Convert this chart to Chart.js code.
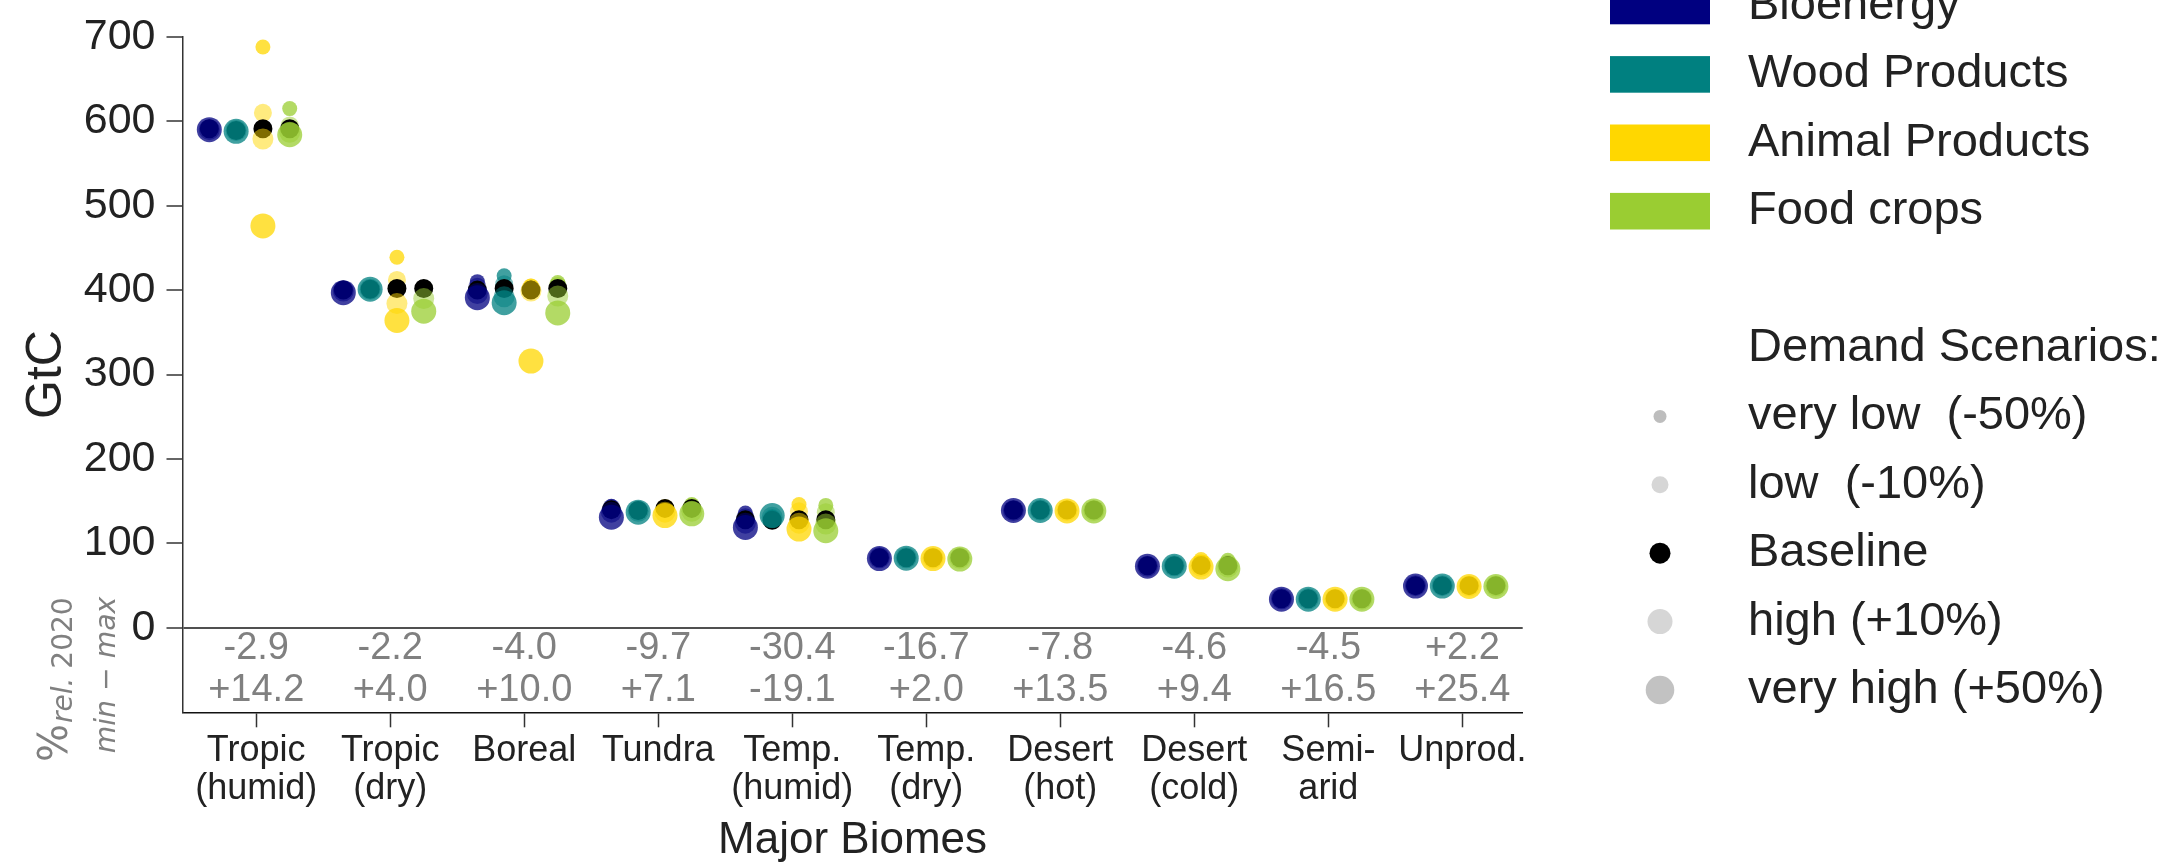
<!DOCTYPE html>
<html lang="en">
<head>
<meta charset="UTF-8">
<title>Carbon stocks by biome</title>
<script src="https://cdn.jsdelivr.net/npm/chart.js@4.4.0/dist/chart.umd.min.js"></script>
<style>
    body { margin: 0; background: #fff; }
    canvas { display: block; }
</style>
</head>
<body>
<canvas id="biome-canvas" width="2165" height="867"></canvas>
<script>
// x axis categories
var biomeLabels = [['Tropic', '(humid)'], ['Tropic', '(dry)'], ['Boreal'], ['Tundra'], ['Temp.', '(humid)'],
    ['Temp.', '(dry)'], ['Desert', '(hot)'], ['Desert', '(cold)'], ['Semi-', 'arid'], ['Unprod.']];

// % rel. 2020, min and max over all scenarios
var pctMin = ['-2.9', '-2.2', '-4.0', '-9.7', '-30.4', '-16.7', '-7.8', '-4.6', '-4.5', '+2.2'];
var pctMax = ['+14.2', '+4.0', '+10.0', '+7.1', '-19.1', '+2.0', '+13.5', '+9.4', '+16.5', '+25.4'];

var yTicks = [0, 100, 200, 300, 400, 500, 600, 700];

// GtC per biome
var bioVeryLow  = [591, 401, 410, 144, 136, 84, 140, 74, 34.5, 50];
var bioLow      = [591, 400, 404, 142, 131, 83.5, 140, 74, 34.5, 50];
var bioBase     = [591, 400, 400, 140, 128, 83, 139.5, 73.5, 34.5, 50];
var bioHigh     = [590, 399, 396, 137, 124, 83, 139, 73, 34.5, 50];
var bioVeryHigh = [590, 397, 391, 131, 119, 82, 139, 73, 34, 49.5];

var woodVeryLow  = [589, 402, 417, 139, 131, 83, 140, 74, 34.5, 50];
var woodLow      = [589, 402, 407, 139, 130, 83, 140, 74, 34.5, 50];
var woodBase     = [589, 401, 402, 139, 127.5, 83, 139.5, 73.5, 34.5, 50];
var woodHigh     = [589, 401, 392, 138, 131, 83, 139.5, 73.5, 34.5, 50];
var woodVeryHigh = [588, 401, 385, 137, 133, 82.5, 139, 73, 34, 49.5];

var animalVeryLow  = [688, 439, 405, 143, 146, 84, 141, 81, 35, 51];
var animalLow      = [610, 412, 403, 142, 138, 83.5, 140, 76, 34.5, 50.5];
var animalBase     = [591, 402, 400, 141.5, 128, 83, 139.5, 74, 34.5, 50];
var animalHigh     = [579, 384, 399, 137, 124, 82.5, 139, 73, 34, 49.5];
var animalVeryHigh = [476, 364, 316, 133, 117, 82, 138.5, 72, 34, 49];

var foodVeryLow  = [615, 403, 409, 146, 145, 84, 141, 80, 35, 51];
var foodLow      = [595, 402, 405, 143, 137, 83.5, 140, 76, 34.5, 50.5];
var foodBase     = [591, 402, 402, 141.5, 128, 83, 139.5, 73.5, 34.5, 50];
var foodHigh     = [587, 390, 393, 138, 123, 82.5, 139, 72, 34, 49.5];
var foodVeryHigh = [584, 375, 373, 135, 115, 81.5, 138.5, 70, 34, 49];

var sectors = [
    { name: 'Bioenergy', rgb: '0,0,128', values: [bioVeryLow, bioLow, bioBase, bioHigh, bioVeryHigh] },
    { name: 'Wood Products', rgb: '0,128,128', values: [woodVeryLow, woodLow, woodBase, woodHigh, woodVeryHigh] },
    { name: 'Animal Products', rgb: '255,215,0', values: [animalVeryLow, animalLow, animalBase, animalHigh, animalVeryHigh] },
    { name: 'Food crops', rgb: '154,205,50', values: [foodVeryLow, foodLow, foodBase, foodHigh, foodVeryHigh] }
];
var scenarios = ['very low  (-50%)', 'low  (-10%)', 'Baseline', 'high (+10%)', 'very high (+50%)'];

// dodge of each sector inside a biome, marker size/alpha per scenario
var sectorOffset = [-0.35, -0.15, 0.05, 0.25];
var dotRadius = [7.5, 9, 9.5, 10.5, 12.5];
var dotAlpha = [0.75, 0.5, 1, 0.5, 0.75];
var legendDot = [6.5, 8.5, 10.5, 12.5, 14.3];
var legendGray = ['#bdbdbd', '#d6d6d6', '#000000', '#d6d6d6', '#c2c2c2'];

var FONT = '"Liberation Sans", Arial, sans-serif';
Chart.defaults.font.family = FONT;
Chart.defaults.color = '#222';

var datasets = [];
scenarios.forEach(function(sc, j) {
    sectors.forEach(function(sec, s) {
        var color = j === 2 ? '#000000' : 'rgba(' + sec.rgb + ',' + dotAlpha[j] + ')';
        datasets.push({
            label: sec.name + ' ' + sc,
            data: sec.values[j].map(function(v, i) { return { x: i + sectorOffset[s], y: v }; }),
            backgroundColor: color,
            borderWidth: 0,
            pointRadius: dotRadius[j],
            pointHoverRadius: dotRadius[j],
            order: 5 - j
        });
    });
});

var extras = {
    id: 'extras',
    afterDraw: function(chart) {
        var ctx = chart.ctx;
        var xs = chart.scales.x, ys = chart.scales.y;
        ctx.save();

        // min / max annotation under the zero line
        ctx.fillStyle = '#808080';
        ctx.font = '38px ' + FONT;
        ctx.textAlign = 'center';
        ctx.textBaseline = 'middle';
        pctMin.forEach(function(t, i) {
            ctx.fillText(t, xs.getPixelForValue(i), ys.getPixelForValue(-25));
            ctx.fillText(pctMax[i], xs.getPixelForValue(i), ys.getPixelForValue(-74));
        });

        // rotated side label for the annotation rows
        ctx.save();
        ctx.translate(66.7, 762);
        ctx.rotate(-Math.PI / 2);
        ctx.textAlign = 'left';
        ctx.textBaseline = 'alphabetic';
        ctx.font = '40px "DejaVu Sans"';
        ctx.fillText('%', 0, 0);
        var w = ctx.measureText('%').width;
        ctx.font = 'italic 28px "DejaVu Sans"';
        ctx.fillText('rel.', w + 1, 5);
        w += 1 + ctx.measureText('rel. ').width;
        ctx.font = '28px "DejaVu Sans"';
        ctx.fillText('2020', w, 5);
        ctx.restore();

        ctx.save();
        ctx.translate(115, 675);
        ctx.rotate(-Math.PI / 2);
        ctx.textAlign = 'center';
        ctx.textBaseline = 'alphabetic';
        ctx.font = 'italic 30px "DejaVu Sans"';
        var size = 30 * 157 / ctx.measureText('min \u2212 max').width;
        ctx.font = 'italic ' + size.toFixed(1) + 'px "DejaVu Sans"';
        ctx.fillText('min \u2212 max', 0, 0);
        ctx.restore();

        // legend
        var rowY = function(r) { return 6 + r * 68.4; };
        ctx.font = '47px ' + FONT;
        ctx.textAlign = 'left';
        ctx.textBaseline = 'middle';
        sectors.forEach(function(sec, i) {
            ctx.fillStyle = 'rgb(' + sec.rgb + ')';
            ctx.fillRect(1610, rowY(i) - 18.3, 100, 36.6);
            ctx.fillStyle = '#222';
            ctx.fillText(sec.name, 1748, rowY(i));
        });
        ctx.fillStyle = '#222';
        ctx.fillText('Demand Scenarios:', 1748, rowY(5));
        scenarios.forEach(function(sc, j) {
            var y = rowY(6 + j);
            ctx.fillStyle = legendGray[j];
            ctx.beginPath();
            ctx.arc(1660, y, legendDot[j], 0, Math.PI * 2);
            ctx.fill();
            ctx.fillStyle = '#222';
            ctx.fillText(sc, 1748, y);
        });
        ctx.restore();
    }
};

var ctx = document.getElementById('biome-canvas').getContext('2d');
new Chart(ctx, {
    type: 'scatter',
    data: { datasets: datasets },
    plugins: [extras],
    options: {
        responsive: false,
        devicePixelRatio: 1,
        animation: false,
        layout: { padding: { left: 0, top: 29.3, right: 642.3, bottom: 0 } },
        plugins: { legend: { display: false }, tooltip: { enabled: false } },
        scales: {
            x: {
                type: 'linear',
                position: 'bottom',
                min: -0.55,
                max: 9.45,
                afterBuildTicks: function(scale) {
                    scale.ticks = biomeLabels.map(function(_, i) { return { value: i }; });
                },
                afterFit: function(scale) { scale.height = 154.7; },
                ticks: {
                    autoSkip: false,
                    maxRotation: 0,
                    padding: 5,
                    color: '#222',
                    font: { size: 36, lineHeight: '38px' },
                    callback: function(value) { return biomeLabels[value]; }
                },
                grid: { display: true, drawOnChartArea: false, tickLength: 15, tickColor: '#333', tickWidth: 1.5 },
                border: { display: true, color: '#111', width: 1.5 },
                title: { display: true, text: 'Major Biomes', color: '#222', font: { size: 44 }, padding: { top: 0, bottom: 0 } }
            },
            y: {
                min: -100,
                max: 700,
                afterBuildTicks: function(scale) {
                    scale.ticks = yTicks.map(function(v) { return { value: v }; });
                },
                afterFit: function(scale) { scale.width = 182.5; },
                ticks: { padding: 11, color: '#222', font: { size: 43 } },
                grid: {
                    display: true,
                    drawOnChartArea: true,
                    color: function(c) { return c.tick && c.tick.value === 0 ? '#505050' : 'rgba(0,0,0,0)'; },
                    lineWidth: 2,
                    tickLength: 16,
                    tickColor: '#333',
                    tickWidth: 1.5
                },
                border: { display: true, color: '#333', width: 1.5 },
                title: { display: true, text: 'GtC', color: '#222', font: { size: 50 }, padding: { top: 17, bottom: 0 } }
            }
        }
    }
});
</script>
</body>
</html>
